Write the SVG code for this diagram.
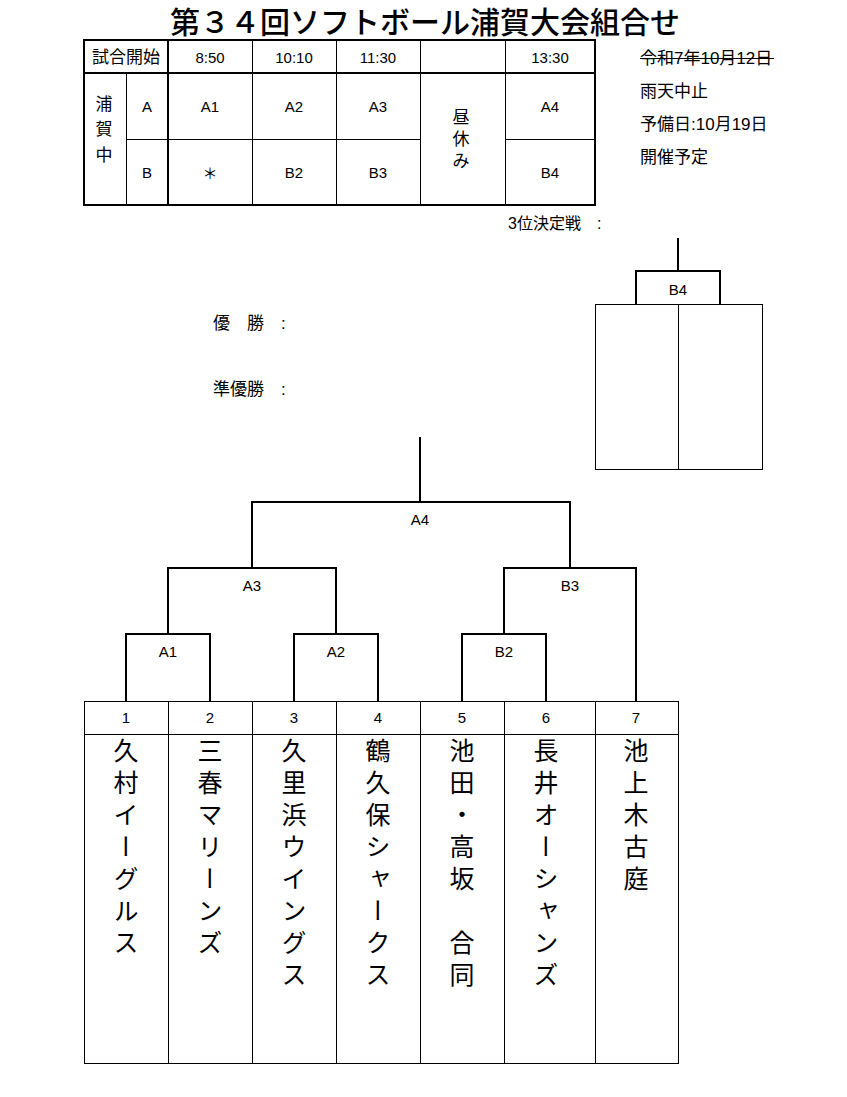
<svg xmlns="http://www.w3.org/2000/svg" width="847" height="1097" viewBox="0 0 847 1097">
<style>
text{font-family:"Liberation Sans","Noto Sans CJK JP",sans-serif;fill:#000}
.t15{font-size:15px;text-anchor:middle}
.j17{font-size:17px}
.jc{font-size:17px;text-anchor:middle}
.thick{stroke:#000;stroke-width:2;fill:none}
.thin{stroke:#000;stroke-width:1;fill:none}
.team{font-family:"Noto Sans CJK JP",sans-serif;font-size:25px;writing-mode:vertical-rl;letter-spacing:7px}
</style>
<rect width="847" height="1097" fill="#fff"/>
<g id="title">
<text x="425" y="33" style="font-size:30px;text-anchor:middle;font-weight:500">第３４回ソフトボール浦賀大会組合せ</text>
</g>
<g id="schedule">
<rect x="84" y="40" width="511" height="165" class="thick"/>
<line x1="84" y1="73" x2="595" y2="73" class="thick"/>
<line x1="168" y1="40" x2="168" y2="205" class="thick"/>
<line x1="126.5" y1="73" x2="126.5" y2="205" class="thin"/>
<line x1="252.5" y1="40" x2="252.5" y2="205" class="thin"/>
<line x1="336.5" y1="40" x2="336.5" y2="205" class="thin"/>
<line x1="420.5" y1="40" x2="420.5" y2="205" class="thin"/>
<line x1="505.5" y1="40" x2="505.5" y2="205" class="thin"/>
<line x1="126" y1="139.5" x2="420" y2="139.5" class="thin"/>
<line x1="505" y1="139.5" x2="595" y2="139.5" class="thin"/>
<text x="126" y="63" class="jc">試合開始</text>
<text x="210" y="63" class="t15">8:50</text>
<text x="294" y="63" class="t15">10:10</text>
<text x="378" y="63" class="t15">11:30</text>
<text x="550" y="63" class="t15">13:30</text>
<text x="104" y="110" class="jc">浦</text>
<text x="104" y="135" class="jc">賀</text>
<text x="104" y="161" class="jc">中</text>
<text x="147" y="112" class="t15">A</text>
<text x="147" y="178" class="t15">B</text>
<text x="210" y="112" class="t15">A1</text>
<text x="294" y="112" class="t15">A2</text>
<text x="378" y="112" class="t15">A3</text>
<text x="550" y="112" class="t15">A4</text>
<text x="210" y="179" class="t15">＊</text>
<text x="294" y="178" class="t15">B2</text>
<text x="378" y="178" class="t15">B3</text>
<text x="550" y="178" class="t15">B4</text>
<text x="461" y="123" class="jc">昼</text>
<text x="461" y="145" class="jc">休</text>
<text x="461" y="167" class="jc">み</text>
</g>
<g id="notes">
<text x="640" y="64" class="j17">令和7年10月12日</text>
<line x1="640" y1="58.5" x2="774" y2="58.5" class="thin"/>
<text x="640" y="97" class="j17">雨天中止</text>
<text x="640" y="130" class="j17">予備日:10月19日</text>
<text x="640" y="163" class="j17">開催予定</text>
<text x="508" y="229" style="font-size:16px">3位決定戦　:</text>
<text x="213" y="329" class="j17">優　勝　:</text>
<text x="213" y="395" class="j17">準優勝　:</text>
</g>
<g id="third-place">
<rect x="595.5" y="304.5" width="167" height="165" class="thin"/>
<line x1="678.5" y1="304" x2="678.5" y2="469" class="thin"/>
<text x="678" y="295" class="t15">B4</text>
</g>
<g id="teams">
<rect x="84.5" y="701.5" width="594" height="362" class="thin"/>
<line x1="84" y1="734.5" x2="678" y2="734.5" class="thin"/>
<line x1="168.5" y1="701" x2="168.5" y2="1063" class="thin"/>
<line x1="252.5" y1="701" x2="252.5" y2="1063" class="thin"/>
<line x1="336.5" y1="701" x2="336.5" y2="1063" class="thin"/>
<line x1="420.5" y1="701" x2="420.5" y2="1063" class="thin"/>
<line x1="504.5" y1="701" x2="504.5" y2="1063" class="thin"/>
<line x1="595.5" y1="701" x2="595.5" y2="1063" class="thin"/>
<text x="126" y="723" class="t15">1</text>
<text x="210" y="723" class="t15">2</text>
<text x="294" y="723" class="t15">3</text>
<text x="378" y="723" class="t15">4</text>
<text x="462" y="723" class="t15">5</text>
<text x="546" y="723" class="t15">6</text>
<text x="636" y="723" class="t15">7</text>
<text x="126" y="738" class="team">久村イーグルス</text>
<text x="210" y="738" class="team">三春マリーンズ</text>
<text x="294" y="738" class="team">久里浜ウイングス</text>
<text x="378" y="738" class="team">鶴久保シャークス</text>
<text x="462" y="738" class="team">池田・高坂　合同</text>
<text x="546" y="738" class="team">長井オーシャンズ</text>
<text x="636" y="738" class="team">池上木古庭</text>
</g>
<g id="connectors">
<path d="M678,238 V271 M636,304 V271 H720 V304" class="thick"/>
<path d="M420,437 V502 M252,568 V502 H570 V568" class="thick"/>
<path d="M168,634 V568 H336 V634 M504,634 V568 H636 V701" class="thick"/>
<path d="M126,701 V634 H210 V701 M294,701 V634 H378 V701 M462,701 V634 H546 V701" class="thick"/>
<text x="420" y="525" class="t15">A4</text>
<text x="252" y="591" class="t15">A3</text>
<text x="570" y="591" class="t15">B3</text>
<text x="168" y="657" class="t15">A1</text>
<text x="336" y="657" class="t15">A2</text>
<text x="504" y="657" class="t15">B2</text>
</g>
</svg>
